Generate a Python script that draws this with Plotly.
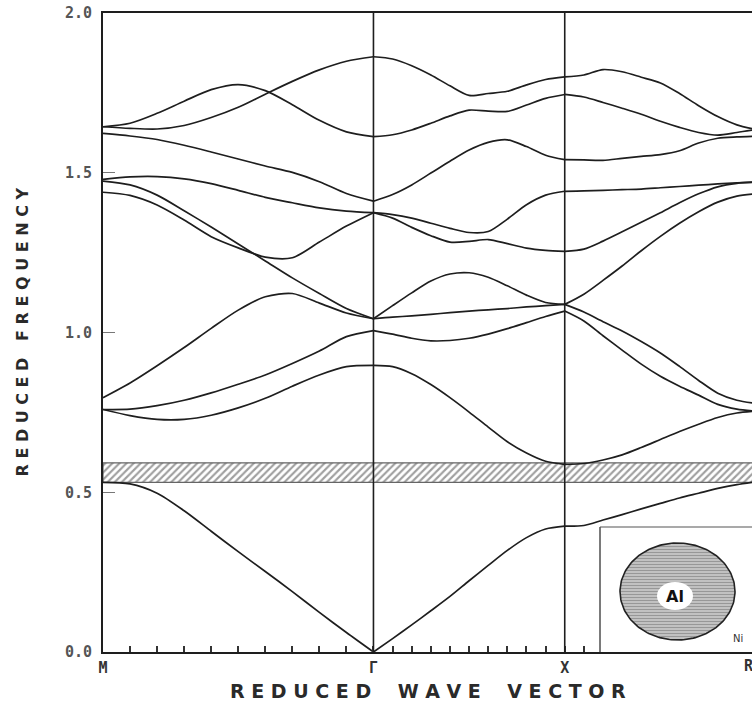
import numpy as np
import plotly.graph_objects as go

# ---------------------------------------------------------------
# Path through the Brillouin zone: M - Γ - X - R (reduced units)
# ---------------------------------------------------------------
k_M, k_G, k_X, k_R = 0.0, 1.414, 2.414, 3.414
sym_labels = ["M", "Γ", "X"]

# Fraction along each segment at which the branch frequencies are listed
seg_frac = [0.0, 0.1, 0.2, 0.3, 0.4, 0.5, 0.6, 0.7, 0.8, 0.9, 1.0]

# Reduced frequencies, one row per branch
freq_MG = [
    [0.531, 0.526, 0.497, 0.442, 0.378, 0.314, 0.252, 0.189, 0.124, 0.061, 0.000],
    [0.759, 0.740, 0.728, 0.728, 0.741, 0.764, 0.794, 0.832, 0.867, 0.893, 0.897],
    [0.759, 0.760, 0.771, 0.788, 0.811, 0.838, 0.867, 0.903, 0.942, 0.987, 1.006],
    [0.796, 0.842, 0.896, 0.953, 1.013, 1.070, 1.112, 1.122, 1.092, 1.061, 1.043],
    [1.474, 1.462, 1.430, 1.381, 1.330, 1.277, 1.224, 1.171, 1.122, 1.075, 1.043],
    [1.439, 1.429, 1.399, 1.352, 1.300, 1.265, 1.236, 1.234, 1.283, 1.333, 1.375],
    [1.479, 1.487, 1.488, 1.481, 1.466, 1.445, 1.423, 1.406, 1.390, 1.380, 1.375],
    [1.623, 1.615, 1.604, 1.586, 1.565, 1.543, 1.521, 1.501, 1.472, 1.435, 1.411],
    [1.644, 1.655, 1.686, 1.724, 1.760, 1.776, 1.757, 1.713, 1.664, 1.628, 1.613],
    [1.644, 1.639, 1.637, 1.648, 1.673, 1.705, 1.746, 1.786, 1.822, 1.849, 1.863],
]

freq_GX = [
    [0.000, 0.042, 0.085, 0.129, 0.174, 0.223, 0.271, 0.318, 0.358, 0.385, 0.394],
    [0.897, 0.893, 0.871, 0.837, 0.796, 0.751, 0.704, 0.658, 0.623, 0.597, 0.587],
    [1.006, 0.995, 0.982, 0.974, 0.975, 0.982, 0.995, 1.012, 1.031, 1.050, 1.067],
    [1.043, 1.048, 1.052, 1.057, 1.062, 1.067, 1.071, 1.075, 1.080, 1.084, 1.088],
    [1.043, 1.084, 1.124, 1.161, 1.183, 1.187, 1.173, 1.146, 1.117, 1.094, 1.088],
    [1.375, 1.358, 1.329, 1.303, 1.283, 1.285, 1.291, 1.278, 1.264, 1.257, 1.254],
    [1.375, 1.369, 1.358, 1.342, 1.326, 1.313, 1.316, 1.355, 1.400, 1.430, 1.442],
    [1.411, 1.432, 1.462, 1.499, 1.536, 1.571, 1.595, 1.603, 1.582, 1.555, 1.541],
    [1.613, 1.619, 1.634, 1.655, 1.678, 1.696, 1.693, 1.692, 1.712, 1.733, 1.745],
    [1.863, 1.856, 1.835, 1.806, 1.772, 1.742, 1.748, 1.755, 1.775, 1.792, 1.800],
]

freq_XR = [
    [0.394, 0.396, 0.413, 0.430, 0.448, 0.465, 0.482, 0.497, 0.512, 0.524, 0.533],
    [0.587, 0.590, 0.601, 0.617, 0.640, 0.665, 0.690, 0.713, 0.734, 0.748, 0.754],
    [1.067, 1.036, 0.990, 0.945, 0.901, 0.863, 0.832, 0.804, 0.775, 0.760, 0.754],
    [1.088, 1.064, 1.034, 1.005, 0.972, 0.936, 0.894, 0.850, 0.810, 0.788, 0.778],
    [1.088, 1.120, 1.163, 1.208, 1.256, 1.301, 1.342, 1.378, 1.408, 1.427, 1.434],
    [1.254, 1.261, 1.286, 1.315, 1.345, 1.375, 1.406, 1.434, 1.456, 1.467, 1.471],
    [1.442, 1.443, 1.445, 1.447, 1.449, 1.453, 1.457, 1.461, 1.465, 1.468, 1.470],
    [1.541, 1.540, 1.539, 1.545, 1.551, 1.557, 1.569, 1.593, 1.608, 1.612, 1.614],
    [1.745, 1.737, 1.720, 1.702, 1.683, 1.661, 1.642, 1.626, 1.618, 1.626, 1.635],
    [1.800, 1.806, 1.823, 1.816, 1.799, 1.781, 1.748, 1.710, 1.676, 1.650, 1.635],
]

# Complete band gap between the acoustic and optical branches
gap_low, gap_high = 0.531, 0.592

y_ticks = [0.0, 0.5, 1.0, 1.5, 2.0]
y_ticklabels = ["0.0", "0.5", "1.0", "1.5", "2.0"]

INK = "#1e1e1e"
MONO = "DejaVu Sans Mono"
SANS = "DejaVu Sans"

fig = go.Figure()

# hatched band gap
fig.add_trace(go.Scatter(
    x=[k_M, k_R, k_R, k_M, k_M],
    y=[gap_low, gap_low, gap_high, gap_high, gap_low],
    mode="lines", fill="toself",
    fillcolor="rgba(0,0,0,0)",
    fillpattern=dict(shape="/", size=5, solidity=0.42,
                     fgcolor="#404040", bgcolor="white"),
    line=dict(color="#666666", width=1.2),
    hoverinfo="skip", showlegend=False,
))

# dispersion branches, segment by segment
segments = [(k_M, k_G, freq_MG), (k_G, k_X, freq_GX), (k_X, k_R, freq_XR)]
for k0, k1, rows in segments:
    kx = [k0 + f * (k1 - k0) for f in seg_frac]
    for row in rows:
        fig.add_trace(go.Scatter(
            x=kx, y=row, mode="lines",
            line=dict(color=INK, width=1.7, shape="spline", smoothing=0.8),
            hoverinfo="skip", showlegend=False,
        ))

# minor ticks along the wave-vector axis
tick_vals, tick_text = [], []
for k0, k1 in [(k_M, k_G), (k_G, k_X), (k_X, k_R)]:
    for i in range(10):
        tick_vals.append(k0 + i * (k1 - k0) / 10)
        tick_text.append("")
for lab, kv in zip(sym_labels, [k_M, k_G, k_X]):
    tick_text[tick_vals.index(kv)] = lab

# inset: Al cylinder in Ni host
inset_dom_x = [0.7658, 1.0]
inset_dom_y = [0.0, 0.1956]
cyl_cx, cyl_cy, cyl_rx, cyl_ry = 77.5, 60.5, 57.5, 48.5
theta = np.linspace(0, 2 * np.pi, 181)
fig.add_trace(go.Scatter(
    x=cyl_cx + cyl_rx * np.cos(theta),
    y=cyl_cy + cyl_ry * np.sin(theta),
    xaxis="x2", yaxis="y2",
    mode="lines", fill="toself", fillcolor="rgba(0,0,0,0)",
    fillpattern=dict(shape="-", size=3, solidity=0.5,
                     fgcolor="#606060", bgcolor="#cfcfcf"),
    line=dict(color="#222222", width=1.6),
    hoverinfo="skip", showlegend=False,
))

shapes = [
    dict(type="line", xref="x", yref="paper", x0=k_G, x1=k_G, y0=0, y1=1,
         line=dict(color=INK, width=1.6)),
    dict(type="line", xref="x", yref="paper", x0=k_X, x1=k_X, y0=0, y1=1,
         line=dict(color=INK, width=1.6)),
    dict(type="line", xref="paper", yref="paper",
         x0=inset_dom_x[0], x1=inset_dom_x[0], y0=0, y1=inset_dom_y[1],
         line=dict(color="#333333", width=1.3)),
    dict(type="line", xref="paper", yref="paper",
         x0=inset_dom_x[0], x1=1.0, y0=inset_dom_y[1], y1=inset_dom_y[1],
         line=dict(color="#555555", width=1.1)),
    dict(type="circle", xref="x2", yref="y2", x0=57, x1=93, y0=42, y1=70,
         fillcolor="white", line=dict(width=0)),
]

annotations = [
    dict(text="R", xref="paper", yref="paper", x=1.0, y=0, xanchor="center",
         yanchor="top", xshift=-3, yshift=-3, showarrow=False,
         font=dict(family=MONO, size=15, color="#333333", weight="bold")),
    dict(text="R E D U C E D    W A V E    V E C T O R", xref="paper", yref="paper",
         x=0.5, y=0, xanchor="center", yanchor="middle", yshift=-39,
         showarrow=False,
         font=dict(family=SANS, size=19, color="#2a2a2a", weight="bold")),
    dict(text="R E D U C E D   F R E Q U E N C Y", xref="paper", yref="paper",
         x=0, y=0.5, xanchor="center", yanchor="middle", xshift=-81,
         textangle=-90, showarrow=False,
         font=dict(family=SANS, size=16, color="#2a2a2a", weight="bold")),
    dict(text="Al", xref="x2", yref="y2", x=75, y=56, showarrow=False,
         font=dict(family=SANS, size=16, color="#111111", weight="bold")),
    dict(text="Ni", xref="x2", yref="y2", x=138, y=14, showarrow=False,
         font=dict(family=SANS, size=10, color="#333333")),
]

fig.update_layout(
    width=752, height=713,
    margin=dict(l=103, r=0, t=13, b=61),
    paper_bgcolor="white", plot_bgcolor="white",
    showlegend=False,
    xaxis=dict(
        range=[k_M, 3.393], showgrid=False, zeroline=False,
        showline=True, linecolor=INK, linewidth=2, mirror=True,
        ticks="inside", ticklen=6, tickwidth=1.5, tickcolor="#333333",
        tickvals=tick_vals, ticktext=tick_text, ticklabelstandoff=1,
        tickfont=dict(family=MONO, size=15, color="#333333", weight="bold"),
    ),
    yaxis=dict(
        range=[0, 2.0], showgrid=False, zeroline=False,
        showline=True, linecolor=INK, linewidth=2,
        ticks="inside", ticklen=12, tickwidth=1.3, tickcolor="#777777",
        tickvals=y_ticks, ticktext=y_ticklabels, ticklabelstandoff=6,
        tickfont=dict(family=MONO, size=15, color="#555555", weight="bold"),
    ),
    xaxis2=dict(domain=inset_dom_x, range=[0, 152], visible=False,
                anchor="y2", fixedrange=True),
    yaxis2=dict(domain=inset_dom_y, range=[0, 125], visible=False,
                anchor="x2", fixedrange=True),
    shapes=shapes,
    annotations=annotations,
)

fig.write_html("out.html")
